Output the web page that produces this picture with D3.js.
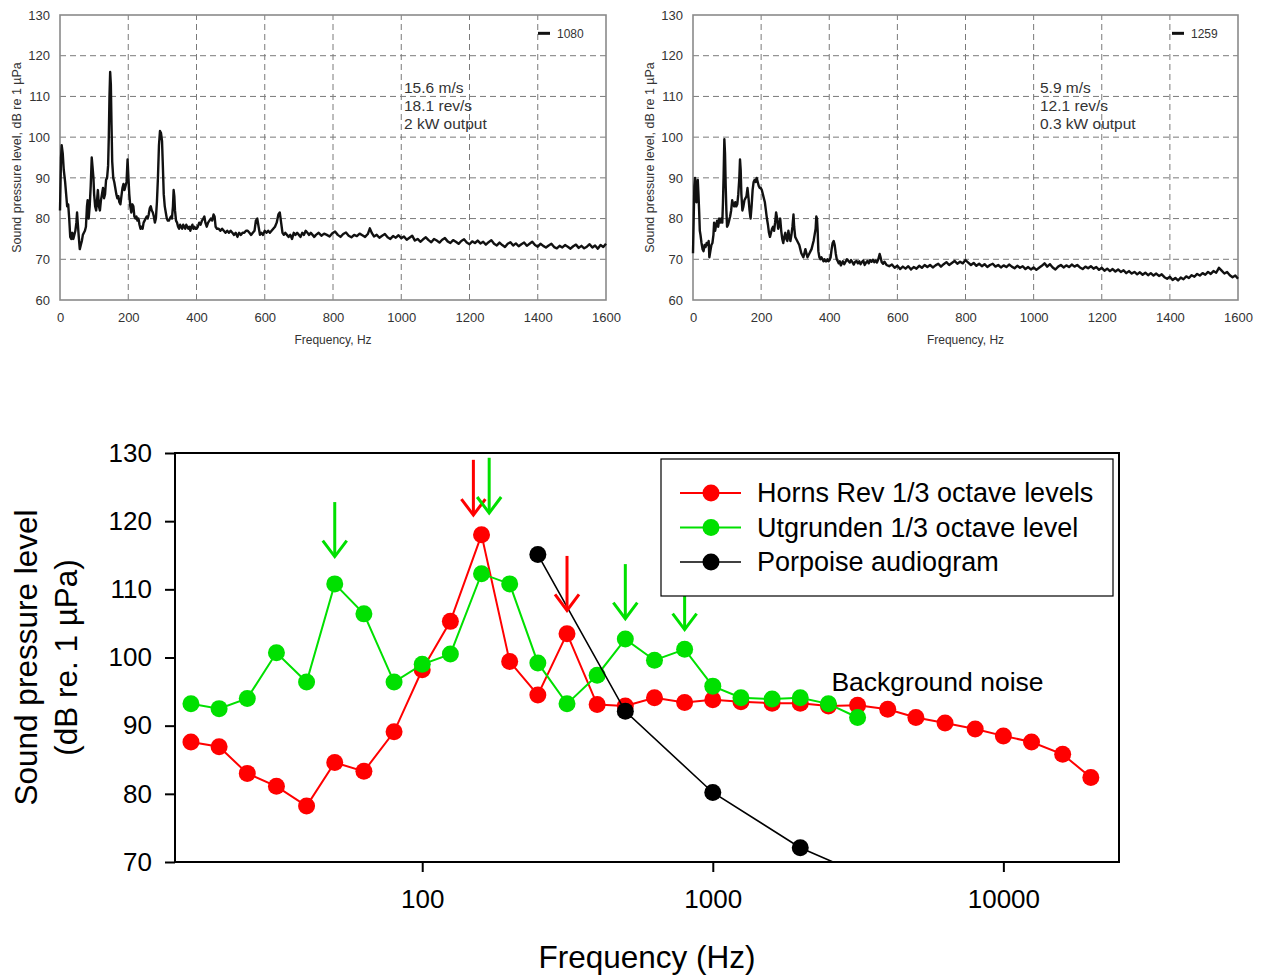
<!DOCTYPE html>
<html><head><meta charset="utf-8">
<script src="https://cdn.jsdelivr.net/npm/d3@7"></script>
<style>body{margin:0;background:#fff} text{font-family:"Liberation Sans",Arial,sans-serif}</style>
</head><body><svg id="c" width="1263" height="977"></svg>
<script>
// ---------- top panels: narrow-band spectra ----------
const spec1080 = [[0,82],[3,95],[5,98],[8,96],[11,92],[15,89],[18,86],[21,83],[24,83.5],[27,80],[30,75.5],[33,75],[36,76.5],[39,75],[42,76],[45,77],[48,79],[50,81.5],[52,79],[55,75.5],[58,72.5],[61,73.5],[64,74.5],[67,76],[70,76.5],[73,77],[76,78],[79,83],[81,84.5],[84,80],[87,83],[90,88],[93,95],[95,93],[98,90],[100,86],[103,83],[106,82],[108,84],[111,87],[114,83],[117,82],[120,84.5],[123,86],[126,87.5],[129,85],[132,86],[135,89.5],[138,90],[141,93],[143,100],[145,110],[147,116],[149,113],[151,103],[153,94],[156,90],[159,89],[162,87.5],[165,86],[168,85],[171,85.5],[174,84],[177,83.5],[180,85.5],[183,87.5],[186,88.5],[189,87],[192,88],[195,89],[198,94.5],[200,91],[203,86],[206,83],[209,81.5],[212,83.5],[215,83],[218,80.5],[221,80],[224,80.5],[227,79.5],[230,80],[233,78.5],[236,77.5],[239,78],[242,77.5],[245,79],[248,79.5],[251,80],[254,80.5],[257,80],[260,81],[263,82.5],[266,83],[269,82],[272,81.5],[275,80.5],[278,79],[281,80],[284,84],[287,90],[290,98],[293,101.5],[296,101],[299,99],[301,94],[304,86],[307,83],[310,81.5],[313,80],[316,79.5],[319,79.5],[322,80],[325,80.5],[328,80],[331,83],[333,87],[335,85.5],[337,82],[340,79.5],[343,79],[346,78],[349,77.5],[352,78.5],[355,78],[358,77.5],[361,78.5],[364,78],[367,77.5],[370,78.5],[373,78],[376,77.5],[379,78],[382,77],[385,78],[388,78.5],[391,77.5],[394,78],[397,77.5],[400,77.5],[404,78],[408,79],[412,78.5],[416,79.5],[420,80],[423,80.5],[426,79],[430,78],[434,79],[438,79.5],[442,80],[446,79.5],[450,81],[453,80.5],[456,78],[460,77.5],[465,77.5],[470,77],[475,77.5],[480,77],[485,76.5],[490,77],[495,76.5],[500,77],[505,76.5],[510,76],[515,76.5],[520,75.5],[525,76.5],[530,76],[535,76.5],[540,76.5],[545,77],[550,77],[555,76.5],[560,76],[565,76.5],[570,77],[574,79.5],[578,80],[582,78],[586,76],[590,76.5],[595,76],[600,77],[605,76.5],[610,77],[615,76.5],[620,77],[625,77.5],[630,78],[635,79],[640,81],[644,81.5],[648,79],[652,76.5],[656,76],[660,76.5],[665,76],[670,75.5],[675,76],[680,75],[685,76.5],[690,76],[695,76.5],[700,76],[705,75.5],[710,76.5],[715,76],[720,77],[725,76.5],[730,76],[735,76.5],[740,76],[745,75.5],[750,76],[758,76.5],[766,75.8],[774,76.3],[782,76],[790,75.6],[798,76.4],[806,76.8],[814,76],[822,75.5],[830,76.2],[838,76.6],[846,75.8],[854,75.4],[862,76],[870,75.7],[878,76.3],[886,75.9],[894,75.5],[902,76.2],[908,77.6],[914,76.4],[920,75.6],[928,76],[936,75.3],[944,75.8],[952,76.2],[960,75.4],[968,75],[976,75.7],[984,75.3],[992,75.9],[1000,75.2],[1008,75.6],[1016,74.8],[1024,75.3],[1032,75.8],[1040,74.6],[1048,75],[1056,74.3],[1064,74.9],[1072,75.4],[1080,74.7],[1088,74.2],[1096,75],[1104,74.6],[1112,74.1],[1120,74.8],[1128,75.2],[1136,74.4],[1144,74],[1152,74.7],[1160,74.3],[1168,73.8],[1176,74.5],[1184,74.9],[1192,74.1],[1200,73.7],[1208,74.4],[1216,74],[1224,74.6],[1232,73.9],[1240,74.3],[1248,73.6],[1256,74.2],[1264,74.7],[1272,73.8],[1280,73.4],[1288,74.1],[1296,73.5],[1304,73],[1312,73.8],[1320,74.2],[1328,73.4],[1336,73.9],[1344,73.2],[1352,73.7],[1360,74.1],[1368,73.3],[1376,73.8],[1384,74.3],[1392,73.5],[1400,73.1],[1408,73.8],[1416,73.3],[1424,72.9],[1432,73.4],[1440,73.8],[1448,73],[1456,72.7],[1464,73.3],[1472,72.9],[1480,73.5],[1488,73.1],[1496,72.6],[1504,73.2],[1512,73.6],[1520,72.8],[1528,73.3],[1536,72.7],[1544,73.1],[1552,73.7],[1560,72.9],[1568,73.4],[1576,72.6],[1584,73.5],[1592,73],[1600,73.8]];

const spec1259 = [[0,71.5],[2,80],[4,88],[6,90],[8,88],[10,84],[12,86],[14,89.5],[16,86],[18,82],[20,77],[22,76],[25,74],[28,72.5],[31,72],[34,73.5],[37,73],[40,74],[43,73.5],[46,74.5],[48,70.5],[51,72],[54,73.5],[57,74],[60,76],[62,79],[65,77],[68,78.5],[71,79.5],[74,78],[77,80],[80,79],[83,80],[86,79],[88,84],[90,91],[92,99.5],[94,96],[96,88],[98,82],[100,78],[103,78.5],[106,79.5],[109,80.5],[112,82],[115,84.5],[118,83.5],[121,83],[124,84],[127,83],[130,83.5],[133,86],[136,90],[138,94.5],[140,92],[142,86],[145,82],[148,83],[151,84.5],[154,85],[157,85.5],[160,87.5],[163,85],[166,82],[169,80],[172,83],[175,87],[178,89],[181,89.5],[184,89],[187,90],[190,89],[193,88],[196,87.5],[199,87.5],[202,87],[205,86],[208,85],[211,84],[214,82],[217,80],[220,78.5],[223,76.5],[226,75.5],[229,76.5],[232,77.5],[235,78],[238,77],[241,79],[244,81.5],[247,80],[250,77.5],[253,78.5],[256,80],[259,77],[262,75],[265,74],[268,75.5],[271,76.5],[274,75],[277,74.5],[280,77],[283,75.5],[286,74.5],[289,76],[292,78],[295,81],[297,78],[300,75.5],[303,75],[306,74.5],[309,74],[312,73.5],[315,72.5],[318,71.5],[321,71],[324,70.5],[327,71.5],[330,72.5],[333,71.5],[336,70.5],[339,71],[342,71.5],[345,72],[348,72.5],[351,73.5],[354,74.5],[357,76],[360,77.5],[362,80.5],[364,80],[366,77],[368,72],[371,70.5],[374,70],[377,70.5],[380,70],[383,69.5],[386,70],[389,69.5],[392,69.5],[395,70],[398,69.5],[401,69.8],[404,70.5],[407,72.5],[410,74],[413,74.5],[416,73.5],[419,71.5],[422,70],[425,69.5],[428,69],[431,69.5],[434,68.5],[437,69],[440,69.5],[444,68.8],[448,69.4],[452,70],[456,69.6],[460,69.2],[464,69.8],[468,69.3],[472,68.7],[476,69.4],[480,69.6],[484,69],[488,69.5],[492,68.8],[496,69.3],[500,69.7],[504,68.6],[508,69.2],[512,69.6],[516,69],[520,69.8],[524,69.4],[528,69.9],[532,69.3],[536,69.7],[540,69.2],[544,70],[548,71.3],[551,70.4],[554,69.3],[558,68.9],[562,69.4],[568,68.6],[576,68.3],[584,68.7],[592,67.9],[600,68.4],[608,67.6],[616,68.2],[624,67.7],[632,68.3],[640,67.5],[648,68.1],[656,67.7],[664,68.4],[672,67.9],[680,68.6],[688,68.1],[696,68.6],[704,68],[712,68.5],[720,68.9],[728,68.2],[736,68.8],[744,69.3],[752,68.6],[760,69.1],[768,69.6],[776,68.9],[784,69.4],[792,69],[800,69.8],[808,69.2],[816,68.6],[824,69.1],[832,68.4],[840,68.9],[848,68.3],[856,68.8],[864,68.1],[872,68.6],[880,68.9],[888,68.2],[896,68.6],[904,68],[912,68.5],[920,68.1],[928,68.7],[936,68.2],[944,67.8],[952,68.4],[960,67.9],[968,68.3],[976,67.6],[984,68.1],[992,67.5],[1000,68],[1008,67.4],[1016,67.9],[1024,68.4],[1032,69],[1040,68.2],[1048,68.8],[1056,68],[1064,67.5],[1072,68.2],[1080,68.6],[1088,68],[1096,68.5],[1104,68.1],[1112,68.7],[1120,68.2],[1128,68.6],[1136,68],[1144,67.6],[1152,68.2],[1160,67.8],[1168,68.3],[1176,67.7],[1184,68.1],[1192,67.4],[1200,67.9],[1208,67.2],[1216,67.7],[1224,67.1],[1232,67.6],[1240,67],[1248,67.5],[1256,66.9],[1264,67.3],[1272,66.6],[1280,67.1],[1288,66.5],[1296,66.9],[1304,66.3],[1312,66.8],[1320,66.2],[1328,66.7],[1336,66.1],[1344,66.6],[1352,66],[1360,66.5],[1368,65.9],[1376,66.3],[1384,65.6],[1392,65.2],[1400,65.7],[1408,64.9],[1416,65.4],[1424,64.8],[1432,65.5],[1440,65.1],[1448,65.8],[1456,65.4],[1464,66.1],[1472,65.7],[1480,66.4],[1488,66],[1496,66.6],[1504,66.2],[1512,66.9],[1520,66.4],[1528,67.1],[1536,66.7],[1544,67.9],[1552,67.2],[1560,66.5],[1568,66.9],[1576,66.1],[1584,65.6],[1592,66],[1600,65.2]];

const info1080 = ["15.6 m/s", "18.1 rev/s", "2 kW output"];
const info1259 = ["5.9 m/s", "12.1 rev/s", "0.3 kW output"];
const specFreqTicks = [0, 200, 400, 600, 800, 1000, 1200, 1400, 1600];
const specDbTicks = [60, 70, 80, 90, 100, 110, 120, 130];

// ---------- bottom chart: 1/3 octave levels ----------
const bandFreqs = [16,20,25,31.5,40,50,63,80,100,125,160,200,250,315,400,500,630,800,1000,1250,1600,2000,2500,3150,4000,5000,6300,8000,10000,12500,16000,20000];
const hornsRev = [87.6,86.9,83.0,81.1,78.2,84.6,83.3,89.1,98.2,105.3,118.0,99.4,94.5,103.5,93.1,92.9,94.1,93.4,93.8,93.5,93.3,93.3,92.9,93.0,92.4,91.2,90.4,89.5,88.5,87.6,85.8,82.4];
const utgrundenFreqs = [16,20,25,31.5,40,50,63,80,100,125,160,200,250,315,400,500,630,800,1000,1250,1600,2000,2500,3150];
const utgrunden = [93.2,92.5,94.0,100.7,96.4,110.8,106.4,96.4,99.0,100.5,112.3,110.8,99.2,93.2,97.4,102.7,99.6,101.2,95.8,94.1,93.9,94.1,93.2,91.2];
const audiogramFreqs = [250, 500, 1000, 2000, 4000];
const audiogram = [115.1, 92.1, 80.2, 72.1, 66.5];
const mainFreqTicks = [100, 1000, 10000];
const mainDbTicks = [70, 80, 90, 100, 110, 120, 130];
const seriesNames = ["Horns Rev 1/3 octave levels", "Utgrunden 1/3 octave level", "Porpoise audiogram"];
const arrowSeries = ["horns", "utgrunden", "horns", "utgrunden", "utgrunden", "utgrunden"];
const arrowFreqs = [150, 50, 315, 170, 500, 800];
const arrowTops = [129.0, 122.8, 114.9, 129.3, 113.7, 112.1];
const arrowTips = [120.9, 114.8, 106.9, 121.2, 105.7, 104.1];
const noteText = "Background noise";
const noteFreq = 2560, noteDb = 95.1;

const svg = d3.select("#c");
svg.append("rect").attr("width",1263).attr("height",977).attr("fill","#fff");

function spectrumPanel(data, x0, x1, info, label, titleX, infoX, legX) {
  const x = d3.scaleLinear().domain([0,1600]).range([x0,x1]);
  const y = d3.scaleLinear().domain([60,130]).range([300,15]);
  const g = svg.append("g");
  g.append("g").selectAll("line").data(specFreqTicks.slice(1,-1)).join("line")
    .attr("x1",d=>x(d)).attr("x2",d=>x(d)).attr("y1",y(60)).attr("y2",y(130))
    .attr("stroke","#7a7a7a").attr("stroke-width",1).attr("stroke-dasharray","6,4");
  g.append("g").selectAll("line").data(specDbTicks.slice(1,-1)).join("line")
    .attr("y1",d=>y(d)).attr("y2",d=>y(d)).attr("x1",x0).attr("x2",x1)
    .attr("stroke","#7a7a7a").attr("stroke-width",1).attr("stroke-dasharray","6,4");
  g.append("rect").attr("x",x0).attr("y",y(130)).attr("width",x1-x0).attr("height",y(60)-y(130))
    .attr("fill","none").attr("stroke","#8a8a8a").attr("stroke-width",1.6);
  const ax = g.append("g").attr("transform",`translate(0,${y(60)})`)
    .call(d3.axisBottom(x).tickValues(specFreqTicks).tickFormat(d3.format("d")).tickSize(0).tickPadding(13));
  ax.select(".domain").remove();
  ax.selectAll("text").attr("font-size",13).attr("fill","#333").attr("font-family","Liberation Sans, Arial, sans-serif");
  const ay = g.append("g").attr("transform",`translate(${x0},0)`)
    .call(d3.axisLeft(y).tickValues(specDbTicks).tickSize(0).tickPadding(10));
  ay.select(".domain").remove();
  ay.selectAll("text").attr("font-size",13).attr("fill","#333").attr("font-family","Liberation Sans, Arial, sans-serif");
  g.append("text").attr("x",(x0+x1)/2).attr("y",344).attr("text-anchor","middle")
    .attr("font-size",12).attr("fill","#333").text("Frequency, Hz");
  g.append("text").attr("transform",`translate(${titleX},${(y(60)+y(130))/2}) rotate(-90)`)
    .attr("text-anchor","middle").attr("font-size",12.5).attr("fill","#333")
    .text("Sound pressure level, dB re 1 \u00b5Pa");
  g.append("path").datum(data)
    .attr("d", d3.line().x(d=>x(d[0])).y(d=>y(d[1])))
    .attr("fill","none").attr("stroke","#111").attr("stroke-width",2.4).attr("stroke-linejoin","round");
  g.append("line").attr("x1",legX).attr("x2",legX+12).attr("y1",y(125.5)).attr("y2",y(125.5))
    .attr("stroke","#111").attr("stroke-width",3);
  g.append("text").attr("x",legX+19).attr("y",y(125.5)).attr("dy","0.35em")
    .attr("font-size",12).attr("fill","#333").text(label);
  g.append("g").selectAll("text").data(info).join("text")
    .attr("x",infoX).attr("y",(d,i)=>93+i*18).attr("font-size",15.5).attr("fill","#333").text(d=>d);
}
spectrumPanel(spec1080, 60, 606, info1080, "1080", 21, 404, 538);
spectrumPanel(spec1259, 693, 1238, info1259, "1259", 654, 1040, 1172);

// ---------- main chart ----------
const L=175, R=1119, T=453, B=862;
const x = d3.scaleLog().domain([14.1, 25000]).range([L,R]);
const y = d3.scaleLinear().domain([70,130]).range([B,T]);
const colors = {horns:"#ff0000", utgrunden:"#00e000", audio:"#000000"};
const m = svg.append("g");
svg.append("defs").append("clipPath").attr("id","plotclip")
  .append("rect").attr("x",L).attr("y",T).attr("width",R-L).attr("height",B-T);

const axB = m.append("g").attr("transform",`translate(0,${B})`)
  .call(d3.axisBottom(x).tickValues(mainFreqTicks).tickFormat(d3.format("d")).tickSize(10).tickPadding(18));
const axL = m.append("g").attr("transform",`translate(${L},0)`)
  .call(d3.axisLeft(y).tickValues(mainDbTicks).tickSize(10).tickPadding(13));
[axB, axL].forEach(a=>{
  a.select(".domain").remove();
  a.selectAll("line").attr("stroke","#000").attr("stroke-width",2);
  a.selectAll("text").attr("font-size",26).attr("fill","#000").attr("font-family","Liberation Sans, Arial, sans-serif");
});
m.append("rect").attr("x",L).attr("y",T).attr("width",R-L).attr("height",B-T)
  .attr("fill","none").attr("stroke","#000").attr("stroke-width",2);

m.append("text").attr("x",(L+R)/2).attr("y",968).attr("text-anchor","middle")
  .attr("font-size",31.5).text("Frequency (Hz)");
const yt = m.append("text").attr("transform",`translate(0,${(T+B)/2}) rotate(-90)`)
  .attr("text-anchor","middle").attr("font-size",31.5);
yt.append("tspan").attr("x",0).attr("y",37).text("Sound pressure level");
yt.append("tspan").attr("x",0).attr("y",77).text("(dB re. 1 \u00b5Pa)");

function series(freqs, vals, color, width, clip) {
  const pts = freqs.map((f,i)=>[f, vals[i]]);
  const g = m.append("g");
  if (clip) g.attr("clip-path","url(#plotclip)");
  g.append("path").datum(pts).attr("d", d3.line().x(d=>x(d[0])).y(d=>y(d[1])))
    .attr("fill","none").attr("stroke",color).attr("stroke-width",width);
  g.selectAll("circle").data(pts.filter(d=>d[1]>=70)).join("circle")
    .attr("cx",d=>x(d[0])).attr("cy",d=>y(d[1])).attr("r",8.5).attr("fill",color);
}
series(bandFreqs, hornsRev, colors.horns, 2, false);
series(utgrundenFreqs, utgrunden, colors.utgrunden, 2, false);
series(audiogramFreqs, audiogram, colors.audio, 1.6, true);

arrowFreqs.forEach((f,i)=>{
  const c = colors[arrowSeries[i]];
  const ax0 = x(f), yt0 = y(arrowTops[i]), yp = y(arrowTips[i]);
  const g = m.append("g").attr("stroke",c).attr("stroke-width",3).attr("fill","none");
  g.append("line").attr("x1",ax0).attr("x2",ax0).attr("y1",yt0).attr("y2",yp-1);
  g.append("path").attr("d",`M${ax0-12},${yp-16}L${ax0},${yp}L${ax0+12},${yp-16}`);
});

m.append("text").attr("x",x(noteFreq)).attr("y",y(noteDb)).attr("text-anchor","start")
  .attr("font-size",26.5).text(noteText);

const lg = m.append("g");
lg.append("rect").attr("x",661).attr("y",459).attr("width",452).attr("height",137)
  .attr("fill","#fff").attr("stroke","#000").attr("stroke-width",1.2);
const legColors = [colors.horns, colors.utgrunden, colors.audio];
seriesNames.forEach((name,i)=>{
  const yy = 493 + i*34.5;
  lg.append("line").attr("x1",680).attr("x2",741).attr("y1",yy).attr("y2",yy)
    .attr("stroke",legColors[i]).attr("stroke-width", i===2?1.6:2);
  lg.append("circle").attr("cx",711).attr("cy",yy).attr("r",8.5).attr("fill",legColors[i]);
  lg.append("text").attr("x",757).attr("y",yy).attr("dy","0.35em").attr("font-size",27).text(name);
});
</script></body></html>
